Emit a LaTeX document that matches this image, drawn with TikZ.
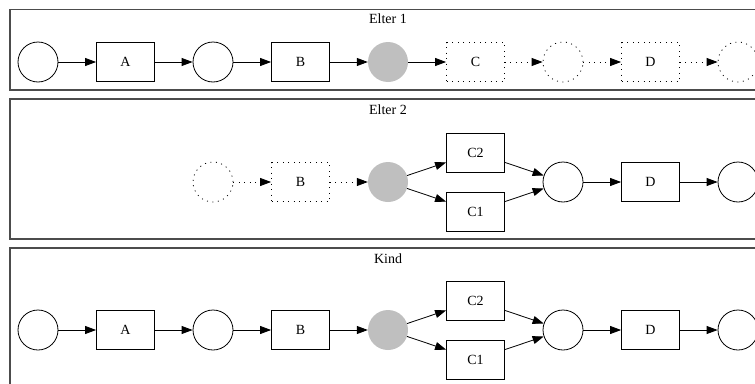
\documentclass[tikz,border=0pt]{standalone}
\usepackage{fontspec}
\setmainfont{Liberation Serif}
\usetikzlibrary{arrows.meta}

\tikzset{
	place/.style={circle,draw,line width=0.8pt,minimum size=40pt,inner sep=0pt},
	marked/.style={circle,fill=black!25,minimum size=40pt,inner sep=0pt},
	trans/.style={rectangle,draw,line width=0.8pt,minimum width=58pt,minimum height=39pt,inner sep=0pt},
	ghost/.style={dash pattern=on 1pt off 4.5pt},
	frame/.style={draw=black!70,line width=1.2pt},
	flow/.style={-{Triangle[length=11pt,width=8pt]},line width=0.8pt}
}

\begin{document}
\begin{tikzpicture}[x=1pt,y=-1pt,node distance=87.5pt,font=\fontsize{14}{16}\selectfont]
	        \useasboundingbox (0,0) rectangle (755,383);
	        \clip (0,0) rectangle (755,383);
	        % frames
	        \draw[frame] (10,9.5) rectangle (780,90);
	        \draw[frame] (10,99) rectangle (780,239);
	        \draw[frame] (10,248) rectangle (780,400);
	        \node (t1) at (388,19) {Elter 1};
	        \node (t2) at (388,110) {Elter 2};
	        \node (t3) at (388,259) {Kind};
	        % Elter 1
	        \node[place] (p10) at (38,62) {};
	        \node[trans] (a1) [right of=p10] {A};
	        \node[place] (p11) [right of=a1] {};
	        \node[trans] (b1) [right of=p11] {B};
	        \node[marked] (m1) [right of=b1] {};
	        \node[trans,ghost] (c1) [right of=m1] {C};
	        \node[place,ghost] (p12) [right of=c1] {};
	        \node[trans,ghost] (d1) [right of=p12] {D};
	        \node[place,ghost] (p13) [right of=d1] {};
	        \draw[flow] (p10) -- (a1);
	        \draw[flow] (a1) -- (p11);
	        \draw[flow] (p11) -- (b1);
	        \draw[flow] (b1) -- (m1);
	        \draw[flow] (m1) -- (c1);
	        \draw[flow,ghost] (c1) -- (p12);
	        \draw[flow,ghost] (p12) -- (d1);
	        \draw[flow,ghost] (d1) -- (p13);
	        % Elter 2
	        \node[place,ghost] (p20) at (213,182) {};
	        \node[trans,ghost] (b2) [right of=p20] {B};
	        \node[marked] (m2) [right of=b2] {};
	        \node[trans] (ctwo2) [right of=m2,yshift=29.5pt] {C2};
	        \node[trans] (cone2) [right of=m2,yshift=-29.5pt] {C1};
	        \node[place] (p21) [right of=m2,xshift=87.5pt] {};
	        \node[trans] (d2) [right of=p21] {D};
	        \node[place] (p22) [right of=d2] {};
	        \draw[flow,ghost] (p20) -- (b2);
	        \draw[flow,ghost] (b2) -- (m2);
	        \draw[flow] (m2) -- (ctwo2);
	        \draw[flow] (m2) -- (cone2);
	        \draw[flow] (ctwo2) -- (p21);
	        \draw[flow] (cone2) -- (p21);
	        \draw[flow] (p21) -- (d2);
	        \draw[flow] (d2) -- (p22);
	        % Kind
	        \node[place] (p30) at (38,330) {};
	        \node[trans] (a3) [right of=p30] {A};
	        \node[place] (p31) [right of=a3] {};
	        \node[trans] (b3) [right of=p31] {B};
	        \node[marked] (m3) [right of=b3] {};
	        \node[trans] (ctwo3) [right of=m3,yshift=29.5pt] {C2};
	        \node[trans] (cone3) [right of=m3,yshift=-29.5pt] {C1};
	        \node[place] (p32) [right of=m3,xshift=87.5pt] {};
	        \node[trans] (d3) [right of=p32] {D};
	        \node[place] (p33) [right of=d3] {};
	        \draw[flow] (p30) -- (a3);
	        \draw[flow] (a3) -- (p31);
	        \draw[flow] (p31) -- (b3);
	        \draw[flow] (b3) -- (m3);
	        \draw[flow] (m3) -- (ctwo3);
	        \draw[flow] (m3) -- (cone3);
	        \draw[flow] (ctwo3) -- (p32);
	        \draw[flow] (cone3) -- (p32);
	        \draw[flow] (p32) -- (d3);
	        \draw[flow] (d3) -- (p33);
	     \end{tikzpicture}
\end{document}
